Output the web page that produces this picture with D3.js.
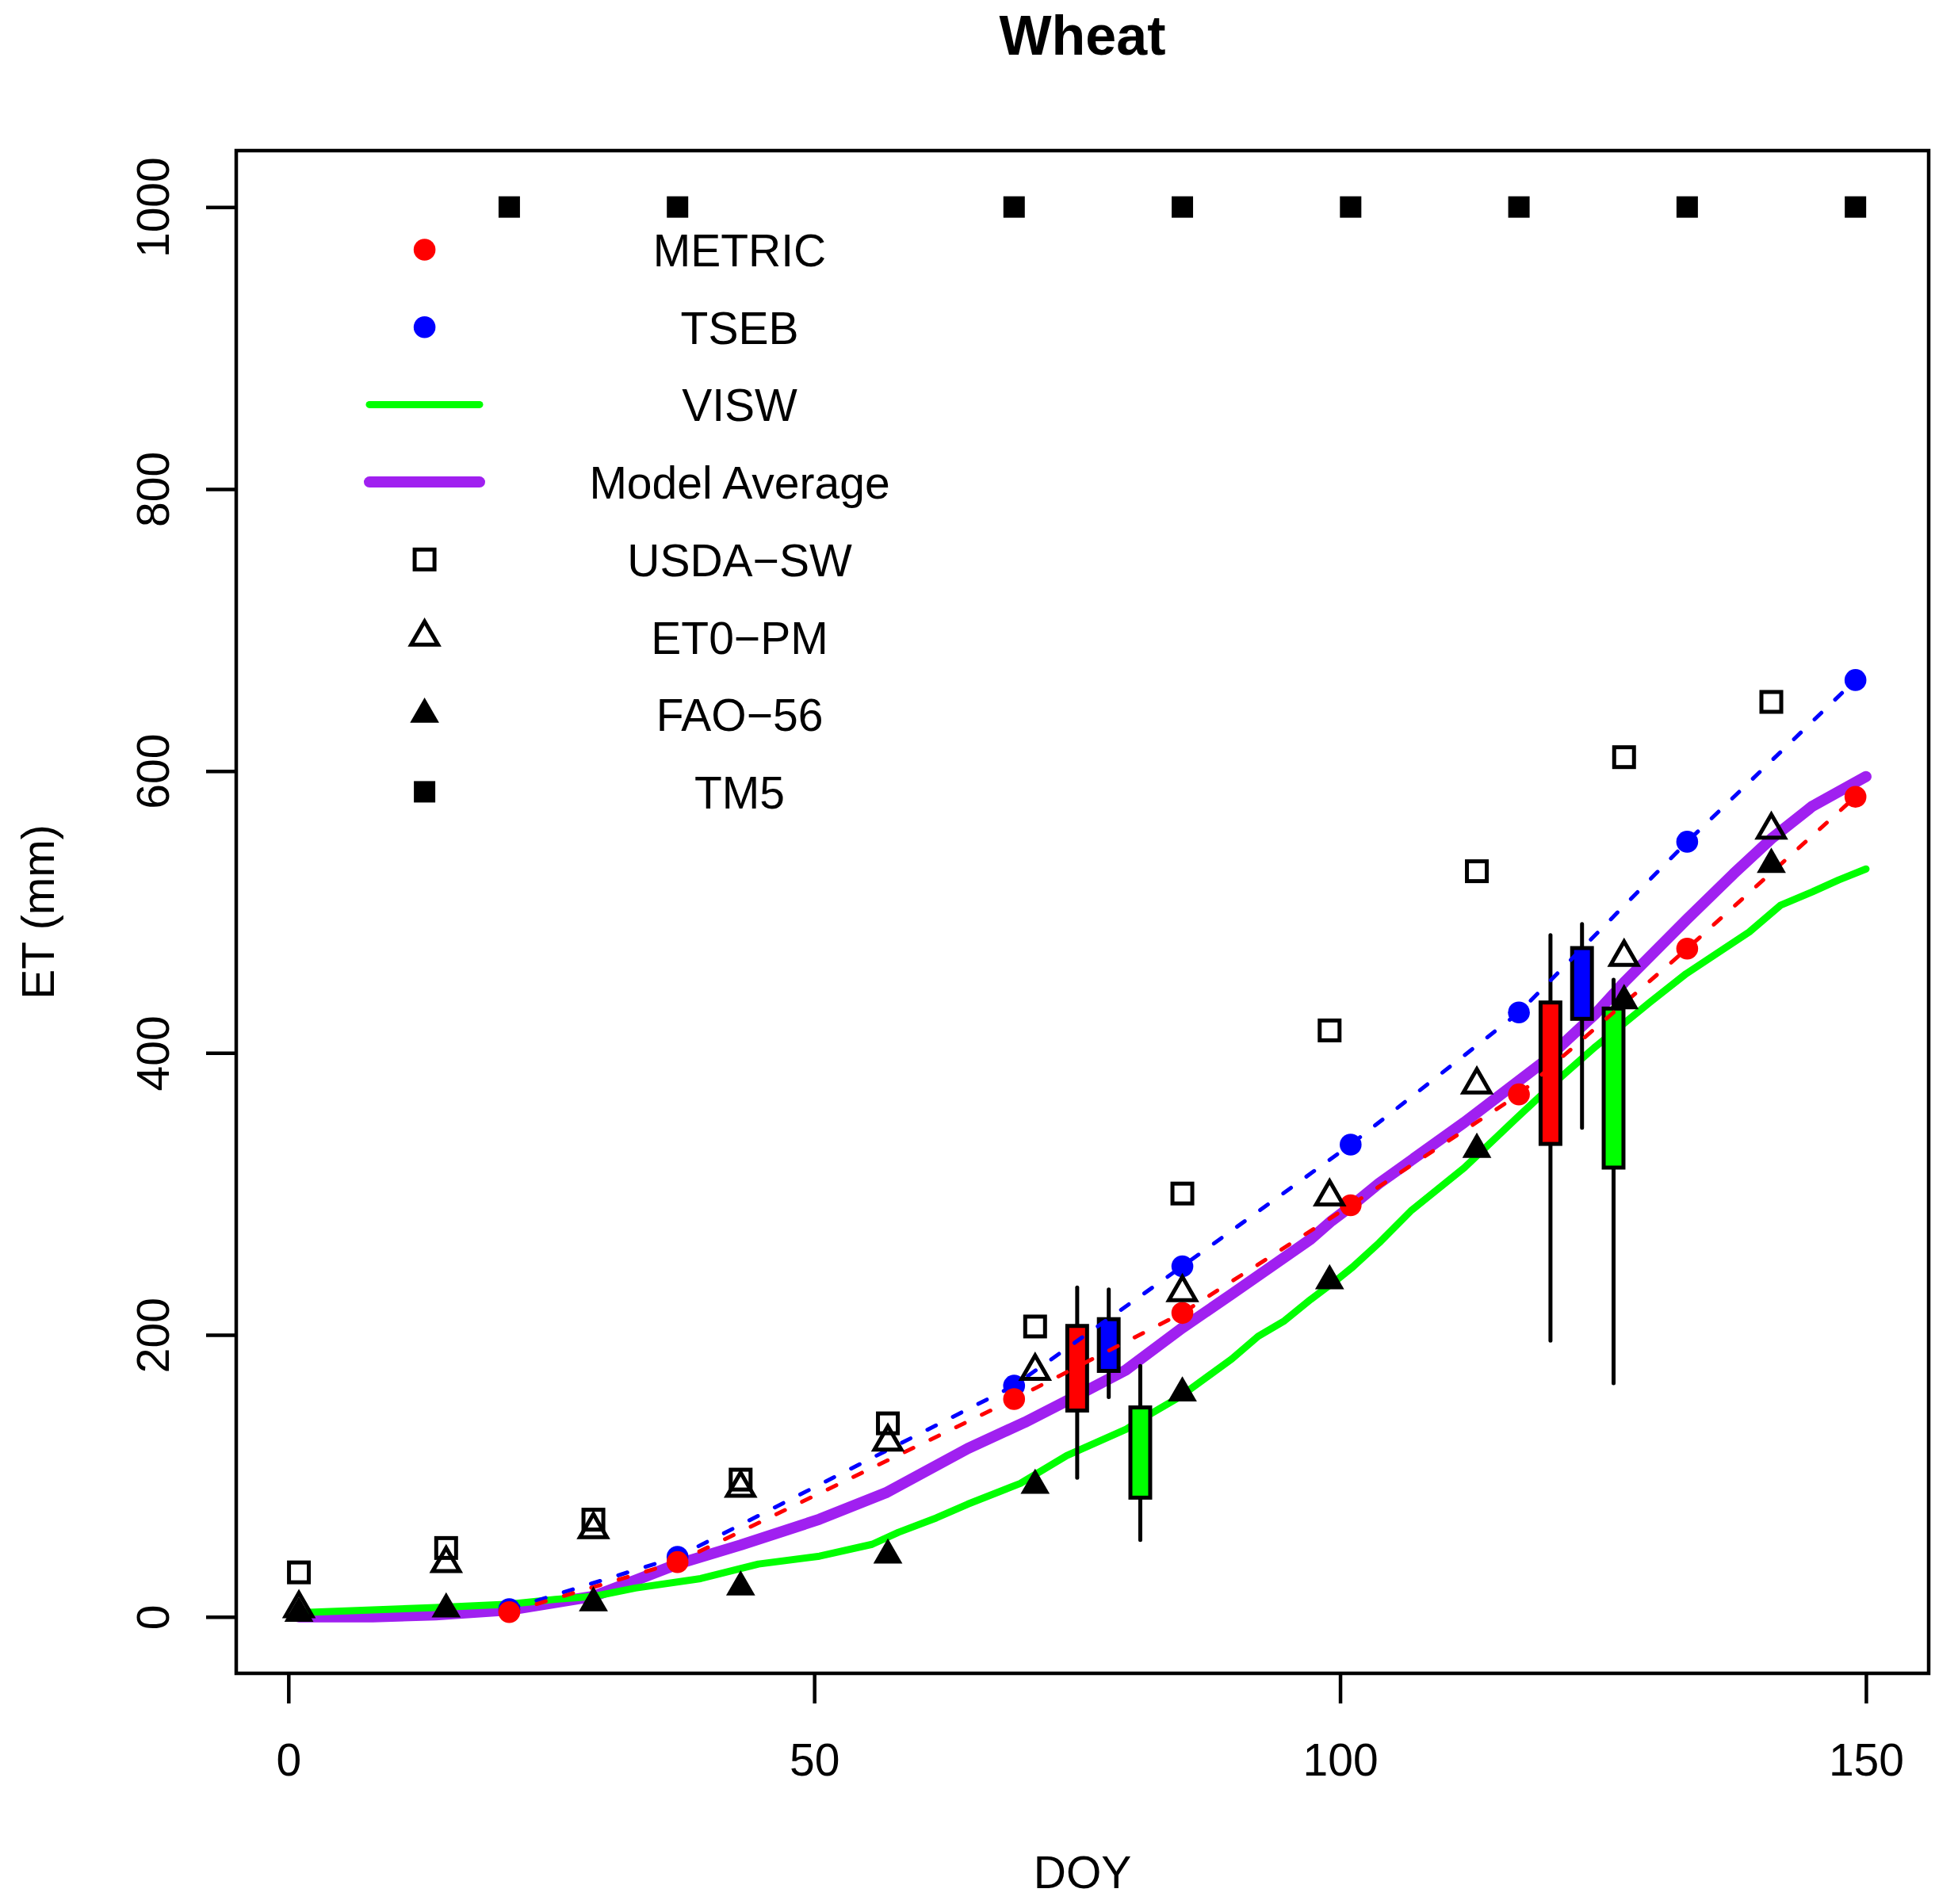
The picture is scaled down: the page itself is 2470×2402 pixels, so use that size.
<!DOCTYPE html>
<html><head><meta charset="utf-8">
<script src="https://cdn.jsdelivr.net/npm/d3@7"></script>
<style>
body{margin:0;background:#fff}
text{font-family:"Liberation Sans",Arial,Helvetica,sans-serif;fill:#000}
</style>
</head><body><svg id="chart"></svg>
<script>
// ---------- data ----------
const metricDOY = [21, 37, 69, 85, 101, 117, 133, 149];
const metricET  = [3.4, 38.9, 154.5, 215.6, 292, 370.6, 474, 581.7];
const tsebDOY   = [21, 37, 69, 85, 101, 117, 133, 149];
const tsebET    = [5.5, 42.6, 164, 248.7, 335, 428.7, 549.8, 664.5];
const stationDOY = [1, 15, 29, 43, 57, 71, 85, 99, 113, 127, 141];
const usdaET = [31.6, 48.9, 69, 97.4, 137.3, 206, 300.3, 416, 528.9, 609.8, 649];
const et0ET  = [6, 38, 62, 91.4, 124.2, 174.4, 230.2, 298.1, 377.5, 468, 558.2];
const faoET  = [2.5, 5.6, 9.9, 21.2, 43.8, 93.3, 158.8, 238.3, 331.6, 437, 533.7];
const tm5DOY = [21, 37, 69, 85, 101, 117, 133, 149];
const tm5ET  = [1000, 1000, 1000, 1000, 1000, 1000, 1000, 1000];
const viswDOY = [1, 8, 14, 21, 25.4, 29, 33, 39.2, 44.7, 50.5, 55.5, 58, 61.6, 64.6, 69.6, 74, 79.6, 81.5, 84.7, 89.7, 92.2, 94.7, 97.2, 99.7, 101.2, 103.7, 106.8, 111.8, 116.8, 120.6, 124.3, 129.4, 132.9, 135.4, 138.9, 141.9, 144.9, 147.4, 150];
const viswET  = [3, 5, 6.7, 9, 12.5, 14.5, 20.5, 27.2, 37.5, 43.1, 51.5, 60, 70.2, 80, 94.7, 114.4, 132.9, 141.9, 155.9, 183, 199, 210, 225.2, 239.2, 248.2, 265.3, 288.5, 318.5, 354, 380.3, 404.6, 435.6, 456.2, 468.5, 485.8, 504.9, 514.3, 522.7, 530.5];
const avgDOY = [1, 8, 14, 21, 25.4, 29, 33, 37, 43, 50.5, 56.8, 64.6, 70, 75, 79.6, 85, 89.7, 97.2, 99.2, 101, 103.7, 111.8, 119.3, 124.3, 127, 129.4, 133, 137.4, 141, 144.9, 150];
const avgET  = [0, 0, 1.5, 4.9, 10.3, 14.6, 26, 37.5, 51, 69.3, 88, 119.5, 138, 157, 175, 205, 229, 268, 281, 291, 307.5, 350.7, 393.4, 428, 450, 468, 495, 527, 552, 575, 596];
const boxDOY   = [75, 78, 81, 120, 123, 126];
const boxModel = ["METRIC", "TSEB", "VISW", "METRIC", "TSEB", "VISW"];
const boxLow   = [98.7, 155.9, 54.6, 196, 347, 165.7];
const boxQ1    = [146.4, 174.5, 84.6, 335.5, 424.2, 318.7];
const boxQ3    = [206.4, 211.2, 148.6, 435.8, 474.4, 431.5];
const boxHigh  = [233.6, 232.2, 178, 483.5, 491.4, 452];
const xTicks = [0, 50, 100, 150];
const yTicks = [0, 200, 400, 600, 800, 1000];
const legendLabels = ["METRIC", "TSEB", "VISW", "Model Average", "USDA\u2212SW", "ET0\u2212PM", "FAO\u221256", "TM5"];
const modelColor = {METRIC: "#FF0000", TSEB: "#0000FF", VISW: "#00FF00"};
const avgColor = "#A020F0";

// ---------- layout ----------
const W = 2470, H = 2402;
const L = 298, R = 2433, T = 190, B = 2111;
const FS = 57;
const svg = d3.select("#chart").attr("width", W).attr("height", H)
  .attr("viewBox", `0 0 ${W} ${H}`);
svg.append("rect").attr("width", W).attr("height", H).attr("fill", "#fff");

const x = d3.scaleLinear().domain([-4.96, 155.96]).range([L, R]);
const y = d3.scaleLinear().domain([-40, 1040]).range([B, T]);

const zip = (a, b) => a.map((v, i) => [v, b[i]]);
const line = d3.line().x(d => x(d[0])).y(d => y(d[1]));

const plot = svg.append("g");

// Model average (purple)
plot.append("path").datum(zip(avgDOY, avgET)).attr("d", line)
  .attr("fill", "none").attr("stroke", avgColor).attr("stroke-width", 14)
  .attr("stroke-linecap", "round").attr("stroke-linejoin", "round");
// VISW (green)
plot.append("path").datum(zip(viswDOY, viswET)).attr("d", line)
  .attr("fill", "none").attr("stroke", modelColor.VISW).attr("stroke-width", 9)
  .attr("stroke-linecap", "round").attr("stroke-linejoin", "round");

// Boxes
const boxes = boxDOY.map((d, i) => ({d, m: boxModel[i], lo: boxLow[i], q1: boxQ1[i], q3: boxQ3[i], hi: boxHigh[i]}));
const bw = 0.94;
const bg = plot.append("g").selectAll("g").data(boxes).join("g");
bg.append("line").attr("x1", b => x(b.d)).attr("x2", b => x(b.d))
  .attr("y1", b => y(b.lo)).attr("y2", b => y(b.hi))
  .attr("stroke", "#000").attr("stroke-width", 5).attr("stroke-linecap", "round");
bg.append("rect").attr("x", b => x(b.d - bw)).attr("width", b => x(b.d + bw) - x(b.d - bw))
  .attr("y", b => y(b.q3)).attr("height", b => y(b.q1) - y(b.q3))
  .attr("fill", b => modelColor[b.m]).attr("stroke", "#000").attr("stroke-width", 5);

// Dashed lines
[[tsebDOY, tsebET, modelColor.TSEB], [metricDOY, metricET, modelColor.METRIC]].forEach(([dx, dy, c]) => {
  plot.append("path").datum(zip(dx, dy)).attr("d", line)
    .attr("fill", "none").attr("stroke", c).attr("stroke-width", 5)
    .attr("stroke-dasharray", "12,24").attr("stroke-linecap", "round");
});

// dots
const dotR = 13.8;
[[tsebDOY, tsebET, modelColor.TSEB], [metricDOY, metricET, modelColor.METRIC]].forEach(([dx, dy, c]) => {
  plot.append("g").selectAll("circle").data(zip(dx, dy)).join("circle")
    .attr("cx", d => x(d[0])).attr("cy", d => y(d[1])).attr("r", dotR).attr("fill", c);
});

// triangle path helper
const tri = (cx, cy, r) => {
  const h = r * Math.sqrt(3) / 2;
  return `M${cx},${cy - r}L${cx + h},${cy + r / 2}L${cx - h},${cy + r / 2}Z`;
};
const rOpen = 19.6, rFill = 21.2, sqOpen = 25, sqFill = 27;

// USDA-SW open squares
plot.append("g").selectAll("rect").data(zip(stationDOY, usdaET)).join("rect")
  .attr("x", d => x(d[0]) - sqOpen / 2).attr("y", d => y(d[1]) - sqOpen / 2)
  .attr("width", sqOpen).attr("height", sqOpen)
  .attr("fill", "none").attr("stroke", "#000").attr("stroke-width", 5);
// ET0-PM open triangles
plot.append("g").selectAll("path").data(zip(stationDOY, et0ET)).join("path")
  .attr("d", d => tri(x(d[0]), y(d[1]), rOpen))
  .attr("fill", "none").attr("stroke", "#000").attr("stroke-width", 5).attr("stroke-linejoin", "miter");
// FAO-56 filled triangles
plot.append("g").selectAll("path").data(zip(stationDOY, faoET)).join("path")
  .attr("d", d => tri(x(d[0]), y(d[1]), rFill)).attr("fill", "#000");
// TM5 filled squares
plot.append("g").selectAll("rect").data(zip(tm5DOY, tm5ET)).join("rect")
  .attr("x", d => x(d[0]) - sqFill / 2).attr("y", d => y(d[1]) - sqFill / 2)
  .attr("width", sqFill).attr("height", sqFill).attr("fill", "#000");

// Frame
svg.append("rect").attr("x", L).attr("y", T).attr("width", R - L).attr("height", B - T)
  .attr("fill", "none").attr("stroke", "#000").attr("stroke-width", 4.5);

// Axes
const xAxis = svg.append("g").attr("transform", `translate(0,${B})`)
  .call(d3.axisBottom(x).tickValues(xTicks).tickSize(38).tickSizeOuter(0).tickFormat(d3.format("d")));
xAxis.select(".domain").remove();
xAxis.selectAll(".tick line").attr("stroke", "#000").attr("stroke-width", 4.5);
xAxis.selectAll(".tick text").attr("y", 129).attr("dy", null)
  .attr("font-size", FS).attr("fill", "#000")
  .style("font-family", '"Liberation Sans",Arial,Helvetica,sans-serif');

const yAxis = svg.append("g").attr("transform", `translate(${L},0)`)
  .call(d3.axisLeft(y).tickValues(yTicks).tickSize(38).tickSizeOuter(0).tickFormat(d3.format("d")));
yAxis.select(".domain").remove();
yAxis.selectAll(".tick line").attr("stroke", "#000").attr("stroke-width", 4.5);
yAxis.selectAll(".tick text").attr("x", 0).attr("y", -85.3).attr("dy", null)
  .attr("transform", "rotate(-90)").attr("text-anchor", "middle")
  .attr("font-size", FS).attr("fill", "#000")
  .style("font-family", '"Liberation Sans",Arial,Helvetica,sans-serif');

// Titles
svg.append("text").attr("x", (L + R) / 2).attr("y", 69).attr("text-anchor", "middle")
  .attr("font-size", 70).attr("font-weight", "bold").text("Wheat");
svg.append("text").attr("x", (L + R) / 2).attr("y", 2382).attr("text-anchor", "middle")
  .attr("font-size", FS).text("DOY");
svg.append("text").attr("transform", `translate(68.3,${(T + B) / 2}) rotate(-90)`)
  .attr("text-anchor", "middle").attr("font-size", FS).text("ET (mm)");

// Legend
const legX = 535.6, legTextX = 933, legY0 = 315, legDY = 97.7;
const leg = svg.append("g");
legendLabels.forEach((lab, i) => {
  const cy = legY0 + i * legDY;
  leg.append("text").attr("x", legTextX).attr("y", cy + 21).attr("text-anchor", "middle")
    .attr("font-size", FS).text(lab);
  if (i === 0 || i === 1) {
    leg.append("circle").attr("cx", legX).attr("cy", cy).attr("r", dotR)
      .attr("fill", i === 0 ? modelColor.METRIC : modelColor.TSEB);
  } else if (i === 2 || i === 3) {
    leg.append("line").attr("x1", 466).attr("x2", 605).attr("y1", cy).attr("y2", cy)
      .attr("stroke", i === 2 ? modelColor.VISW : avgColor)
      .attr("stroke-width", i === 2 ? 9 : 14).attr("stroke-linecap", "round");
  } else if (i === 4) {
    leg.append("rect").attr("x", legX - sqOpen / 2).attr("y", cy - sqOpen / 2)
      .attr("width", sqOpen).attr("height", sqOpen)
      .attr("fill", "none").attr("stroke", "#000").attr("stroke-width", 5);
  } else if (i === 5) {
    leg.append("path").attr("d", tri(legX, cy, rOpen))
      .attr("fill", "none").attr("stroke", "#000").attr("stroke-width", 5);
  } else if (i === 6) {
    leg.append("path").attr("d", tri(legX, cy, rFill)).attr("fill", "#000");
  } else {
    leg.append("rect").attr("x", legX - sqFill / 2).attr("y", cy - sqFill / 2)
      .attr("width", sqFill).attr("height", sqFill).attr("fill", "#000");
  }
});
</script>
</body></html>
